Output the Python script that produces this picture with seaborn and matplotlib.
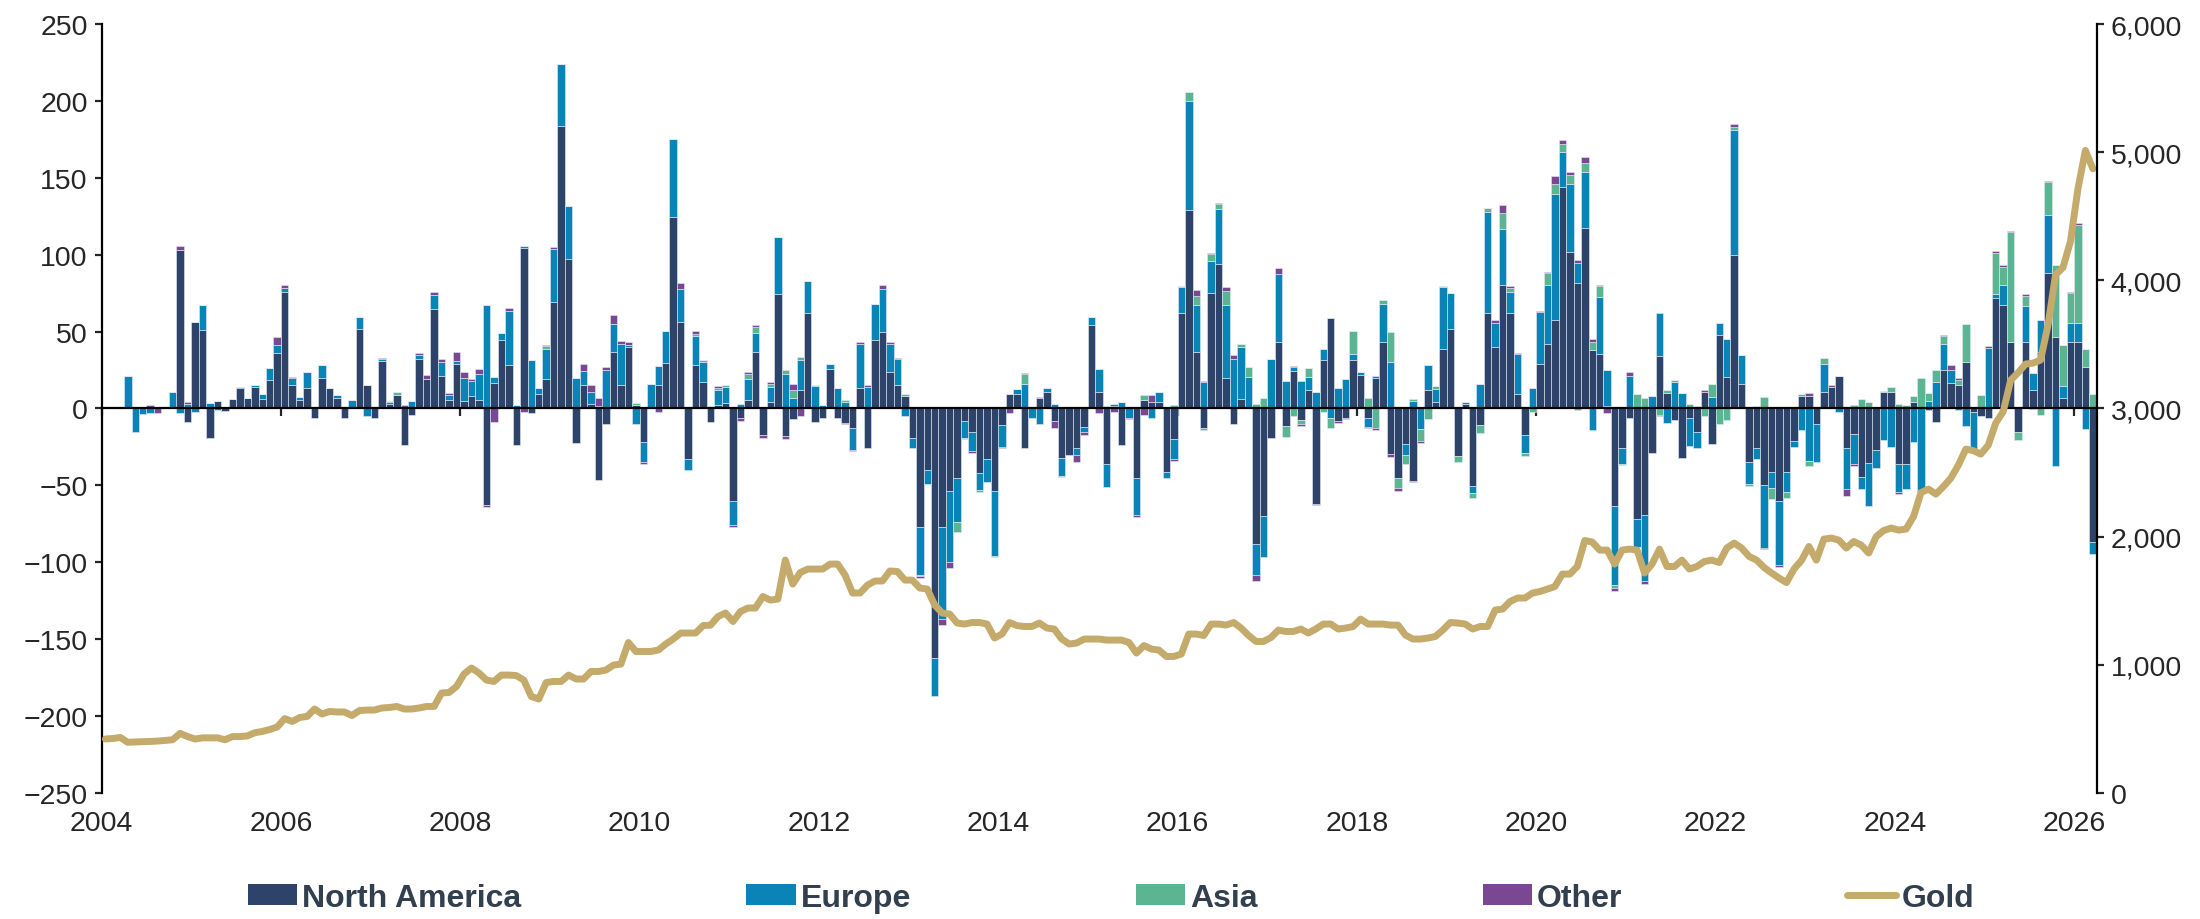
import numpy as np
import matplotlib
matplotlib.use("Agg")
import matplotlib.pyplot as plt
import matplotlib.ticker as mticker
from matplotlib.patches import Patch
from matplotlib.lines import Line2D
import seaborn as sns

# Monthly gold ETF flows by region (tonnes), Jan 2004 - Mar 2026, 12 values per row
north_america = [
    0, 0, 0, 0, 0, 0, 0, 0, 0, 0, 103, -8.5,                            # 2004
    56.5, 51, -19, 5, -1.5, 6, 13, 6.5, 14, 6, 18.5, 36,                # 2005
    76, 15, 5.5, 13.6, -6, 20, 13, 7, -6, 1, 52, 15.6,                  # 2006
    -6.5, 31, 3, 9, -24, -4, 32, 19.5, 65, 21, 5.5, 29,                 # 2007
    5, 8, 5.5, -63, 16.5, 44.5, 28.6, -24, 104.5, -3, 9.4, 19.5,        # 2008
    69, 184, 97.5, -22.5, 15, 3, -46.5, -10, 37, 15.6, 40, 2,           # 2009
    -22, 0, 15.6, 29.5, 124.5, 56, -33, 28, 17.5, -9, 2, 3.6,           # 2010
    -60, -6.5, 5.5, 37, -17, 4, 74.5, -18, -7, 11.7, 62, -9,            # 2011
    -6.5, 26, -6.5, -9.4, -12.7, 13.3, -26, 44.5, 50, 23.7, 15.6, 8.4,  # 2012
    -19.5, -77, -40, -162, -77, -53.6, -45, -8, -15, -42, -33, -53.6,   # 2013
    -11, 9.4, 9.4, -26, 0, 6.5, 10.4, -8.4, -32, -30, -26, -12,         # 2014
    54, 10.4, -36, 1.6, -23.7, 0, -45.5, 5.5, 4.5, 4.5, -41, -20,       # 2015
    62, 129, 37, -12.7, 75, 94, 20, -10, 6, 0, -88, -70,                # 2016
    -19, 43, -11.4, 24.7, -7.5, 12.3, -62, 31.5, 59, -8.4, -6, 31.5,    # 2017
    22, -6, 20, 43, -29.6, -45, -23, -47, 0, 11.7, 4.5, 39,             # 2018
    52, -31, 3, -50.7, -10.7, 62, 40, 80, 62, 9.7, -17, 0,              # 2019
    29, 42, 57.5, 144, 102, 81.5, 117.6, 38, 35.4, 1.6, -63.7, -26,     # 2020
    -6.5, -72, -69, -29, 34, 10, -7.5, -32.5, -6.5, -15, 10.7, -23,     # 2021
    48, 20.5, 100, 16, -35, -26, -50, -41, -60, -41, -21, 8.4,          # 2022
    8.4, -10, 11, 14, 21, -26, -16.5, -44.5, -35.4, -27, 10.4, 11,      # 2023
    -36.4, -36.4, 4.2, 0, -1, -8.5, 25, 16.6, 15.6, 30, -2, -5,         # 2024
    -6, 72, 67, 43.5, -15.6, 43.5, 11.7, 36.7, 88, 46.8, 6.8, 43.5,     # 2025
    43, 27.3, -87,                                                      # 2026
]

europe = [
    0, 0, 0, 21, -15, -3.5, -3, 0, 0, 11, -3, 3,
    -2.5, 16, 3.5, -1, 0, 0, 1.3, 0, 1.3, 3.6, 7.8, 5.2,
    2.3, 5, 2, 10, 0, 8, 0, 1.6, 0, 4.5, 7.5, -5,
    0, 1.3, 1, 0, 0, 5, 3, 0, 9, 9, 3, 2,
    15, 10, 17, 67, 4, 4.5, 35, 2, 1, 31.5, 3.6, 19,
    35, 40, 34, 20, 9.4, 7.5, 1.6, 25, 18, 26.6, 1, -10,
    -13, 16, 12.3, 21, 51, 21.5, -7, 19, 13, 1.3, 10, 10.4,
    -16, 3, 14, 12.3, 1, 10, 37, 22.7, 7, 20, 21, 14.6,
    2, 3, 13, 4, -14, 28.6, 14, 23.7, 28, 18, 16.5, -5,
    -6, -31, -9, -24.7, -60, -46.5, -28.6, -11, -12.7, -11, -14.6, -42,
    -14, 0, 3, 16, -6, -10, 2.6, 2.6, -11.7, 0, -4, -3.6,
    5.5, 15.6, -15, 1.6, 4, -6, -24, 0, -6.5, 6, -4, -13,
    17, 71, 30, 17, 21, 36, 47, 32, 34, 20.5, -20, -26.6,
    32.5, 44.5, 18, 2, 18, 8.4, 10.7, 7.5, -6, 13, 19, 4,
    2, -6, 1, 25, 30, 1, -7, 5, -13.3, 16.6, 8.4, 40,
    23, 0, 1, -4.5, 16, 65.6, 15.6, 37, 13.6, 25.7, -12, 13,
    34, 38, 82, 22.7, 44, 13.3, 36, -14, 37, 23.4, -51, -10,
    21, -18, -43, 8, 28, -9.4, 17, 10, -18, -11, 0, 7.5,
    7.5, 24.7, 81, 19, -14.3, -7, -40.6, -11, -42, -13, -4, -14,
    -34, -25, 18, 0, -2, -26.6, -19.5, -8, -28, -11.7, -20.5, -25,
    -18, -16, -22, -53, 4.9, 17, 17, 8.4, -1, -11.4, -26.3, 0,
    39.6, 2.3, 13.6, 0, 1, 23.4, 11.4, 21, 37.7, -37.7, 7.8, 12.3,
    12.3, -13.3, -7.5,
]

asia = [
    0, 0, 0, 0, 0, 0, 0, 0, 0, 0, 0, 0,
    0, 0, 0, 0, 0, 0, 0, 0, 0, 0, 0, 0,
    0, 0, 0, 0, 0, 0, 0, 0, 0, 0, 0, 0,
    0, 0, 1, 1.5, 0, 0, 0, 0, 0, 0, 0, 0,
    0, 0, 0, 0, 0, 0, 0, 0, 0, 0, 0, 2,
    0, 0, 0, 0, 0, 0, 0, 0, 0, 0, 0, 1.3,
    0, 0, 0, 0, 0, 0, 1, 1.6, 1.3, 0, 1.6, 1,
    0, 0, 3.2, 3.6, 0, 2, 0, 2.3, 5, 2, 0, 1,
    0, 0, 0, 1.3, 0, 0, 0, 0, 0, 0, 0, 1.3,
    0, -1, 0, 0, 0, 0, -6.5, -1, 0, -1, 0, -1,
    0, 0, 0, 6.5, 0, 0, 0, 0, -1, 0, 0, 0,
    0, 0, 1.3, 0, 0, 0, 0, 3, 0, 0, 1, 2,
    0.7, 5.5, 6, -1, 4.5, 3, 9.4, 0, 2, 6.5, 3, 7,
    0, 0, -7, -5, -2.6, 5.5, 0, -2.6, -7, 0, 0, 14.6,
    0, 6.5, -13, 2.6, 20, -7, -6, 1, -8, -6.8, 2, 0.7,
    0, -4, 0, -3, -5, 3, 0, 10, 2.6, 0, -2, -2,
    0, 8, 6.5, 5, 6, -1, 6, 5.5, 7, 0, -2, -1,
    0, 9.4, 7, 0, -4, 2, 1.3, 0, 3, 1.6, -5, 8.4,
    -10, -7.5, 2.3, 0, -1, 1.3, 7.5, -7, 0, -4.5, 0, 0.7,
    -3.6, 0, 3.6, 0, 0, 0.5, 2, 6, 4, 0, 0.7, 3.2,
    2.6, 2.3, 3.9, 19.8, 5.2, 8, 5, 0, 3, 24.7, 0, 9,
    0, 27, 11.7, 71, -5, 6.5, 0, -4, 21.4, 46.5, 26.6, 19,
    64, 11.4, 9.4,
]

other = [
    0, 0, 0, 0, 0, 0, 2, -3, 0, 0, 2.5, 1,
    0, 0, 0, 0, 0, 0, 0, 0, 0, 0, 0, 5.5,
    2, 0.7, 0, 0, 0, 0, 0, 0, 0, 0, 0, 0,
    0, 0.7, 0, 0, 2, 0, 1, 2.6, 2, 2, 1.6, 5.5,
    4, 1.3, 3, -1, -9, 0, 2, 0, -2, 0, 0, 0.7,
    1, 0, 0, 0, 4.5, 5, 5.5, 2, 6, 2, 2, 0,
    -1, 0, -2.5, 0, 0, 4, 0, 1.6, 0, 0, 1, 0,
    -1, -1.6, 1, 1.6, -2, 1, 0, -2, 4, -5, 0, 0,
    0, 0, 0, -1, -1, 1.3, 1.6, 0, 2.6, 1.3, 0.7, 0,
    0, -1, 0, 1, -4, -3.6, 0, 0, -1, 0, 0, 0,
    -1, -3, 0, 0.7, 0.7, 1, 0, -4, 0, 1, -4.5, -1.6,
    0, -3, 0, -2, 0, -1, -1, -4.5, 4.5, 0, 0, -1,
    0, 0, 4, 1, 0.7, 0.7, 2.6, 2.6, 0, 0, -4, 0,
    0, 3.6, 0, 0.7, -1, 0, -1, 0, 0, -1, -1, 0,
    0, -1, -1, 0, -2, -1.6, 0, -1, -1, 0, 0, 0,
    0, 0, 0, 0, 0, 0, 2, 5, 1.6, 0.7, 0.5, 0,
    0.5, 0.7, 5, 2.6, 2, 2, 4, 2, 0.7, -3, -2, 0,
    2.6, 0, -2, 0, -1, 0, 0, 0, 0, 0, 1.6, 0,
    0, 0, 1.6, 0, 0, 0, -1, 0.5, -1, 0, 0, 0,
    1.6, 0, 0, 1, 0, -4, -1.5, 0, 0, 0.5, 0, 0,
    -1, 0, 0, -1, 0, 0, 1, 3.2, 1.3, 0, 0, 0,
    1.3, 1, 0.7, 1, 0, 1.3, -0.5, 0, 1, 0, 0, 1,
    1, 0, 0,
]

# Gold price (US$/oz), right axis
gold = [
    421, 425, 433, 395, 398, 400, 402, 405, 410, 415, 465, 440,
    421, 430, 430, 430, 415, 440, 440, 445, 470, 480, 495, 515,
    580, 558, 589, 597, 655, 616, 636, 632, 632, 604, 643, 647,
    647, 663, 667, 675, 655, 655, 663, 675, 675, 780, 784, 831,
    928, 975, 936, 881, 870, 920, 920, 916, 881, 753, 733, 862,
    870, 870, 920, 889, 889, 948, 948, 959, 998, 1006, 1174, 1104,
    1104, 1104, 1115, 1162, 1201, 1248, 1248, 1248, 1306, 1310, 1377, 1404,
    1338, 1416, 1443, 1443, 1533, 1505, 1513, 1817, 1630, 1720, 1747, 1747,
    1747, 1786, 1786, 1700, 1560, 1560, 1622, 1654, 1654, 1732, 1728, 1661,
    1661, 1599, 1591, 1466, 1404, 1396, 1326, 1318, 1330, 1330, 1318, 1209,
    1240, 1330, 1306, 1299, 1299, 1326, 1287, 1279, 1201, 1162, 1170, 1201,
    1201, 1201, 1193, 1193, 1193, 1174, 1092, 1150, 1123, 1115, 1065, 1065,
    1084, 1240, 1240, 1229, 1318, 1318, 1310, 1330, 1287, 1229, 1182, 1182,
    1213, 1271, 1260, 1260, 1279, 1248, 1279, 1318, 1318, 1279, 1287, 1299,
    1357, 1318, 1318, 1318, 1310, 1310, 1232, 1201, 1201, 1209, 1221, 1271,
    1330, 1326, 1318, 1279, 1299, 1299, 1427, 1435, 1494, 1521, 1521, 1560,
    1572, 1591, 1611, 1708, 1708, 1767, 1970, 1958, 1895, 1895, 1786, 1895,
    1903, 1895, 1716, 1786, 1903, 1767, 1767, 1817, 1747, 1767, 1806, 1817,
    1798, 1911, 1950, 1911, 1845, 1817, 1759, 1716, 1677, 1642, 1747, 1814,
    1923, 1817, 1981, 1989, 1973, 1911, 1962, 1934, 1872, 2000, 2048, 2067,
    2051, 2059, 2157, 2344, 2371, 2332, 2391, 2457, 2558, 2683, 2671, 2644,
    2714, 2886, 2976, 3221, 3280, 3347, 3354, 3378, 3651, 4042, 4100, 4303,
    4713, 5014, 4870,
]

series_names = ["North America", "Europe", "Asia", "Other"]
series_colors = ["#2E4369", "#0A83B6", "#5CB592", "#7A4893"]
gold_color = "#C4AA6B"
text_color = "#323F4F"

n = len(gold)
for s in (north_america, europe, asia, other):
    assert len(s) == n
x = 2004 + (np.arange(n) + 0.5) / 12

sns.set_style("white")
plt.rcParams['font.family'] = ['Liberation Sans', 'DejaVu Sans']

fig = plt.figure(figsize=(22, 9.2), dpi=100)
ax = fig.add_axes([0.0462, 0.137, 0.9068, 0.8358])

# stacked columns: positives stack upward, negatives downward
pos_base = np.zeros(n)
neg_base = np.zeros(n)
for vals, name, color in zip((north_america, europe, asia, other), series_names, series_colors):
    vals = np.asarray(vals, dtype=float)
    bottom = np.where(vals >= 0, pos_base, neg_base)
    ax.bar(x, vals, width=1 / 12, bottom=bottom, color=color,
           edgecolor="#e4ecf4", linewidth=0.4, label=name)
    pos_base += np.clip(vals, 0, None)
    neg_base += np.clip(vals, None, 0)

ax.set_xlim(2004, 2004 + n / 12)
ax.set_ylim(-250, 250)
ax.set_yticks(np.arange(-250, 251, 50))
ax.set_xticks(np.arange(2004, 2027, 2))

# category axis sits on the zero line, labels at the bottom
ax.spines['bottom'].set_position(('data', 0))
ax.spines['bottom'].set_color('black')
ax.spines['bottom'].set_linewidth(1.6)
ax.spines['top'].set_visible(False)
ax.spines['right'].set_visible(False)
ax.spines['left'].set_color('black')
ax.spines['left'].set_linewidth(1.6)
ax.tick_params(axis='x', direction='out', length=6, width=1.6, labelbottom=False, bottom=True)
ax.tick_params(axis='y', direction='out', length=5, width=1.6, labelsize=20.5, pad=5, left=True)

sec = ax.secondary_xaxis('bottom')
sec.set_xticks(np.arange(2004, 2027, 2))
sec.tick_params(length=0, labelsize=20.5, pad=12)
sec.spines['bottom'].set_visible(False)

# gold price on the right axis
ax2 = ax.twinx()
sns.lineplot(x=x, y=gold, ax=ax2, color=gold_color, linewidth=5, legend=False)
ax2.set_ylim(0, 6000)
ax2.set_yticks(np.arange(0, 6001, 1000))
ax2.yaxis.set_major_formatter(mticker.StrMethodFormatter('{x:,.0f}'))
for side in ('top', 'left', 'bottom'):
    ax2.spines[side].set_visible(False)
ax2.spines['right'].set_color('black')
ax2.spines['right'].set_linewidth(1.6)
ax2.tick_params(axis='y', direction='out', length=5, width=1.6, labelsize=20.5, pad=5, right=True)
ax2.set_ylabel('')

handles = [Patch(facecolor=c, edgecolor='none') for c in series_colors]
handles.append(Line2D([0], [0], color=gold_color, linewidth=5))
leg = fig.legend(handles, series_names + ["Gold"], loc='lower center', ncol=5,
                 bbox_to_anchor=(0.505, -0.014), frameon=False,
                 prop={'weight': 'bold', 'size': 23}, labelcolor=text_color,
                 columnspacing=7.05, handlelength=1.54, handleheight=0.6,
                 handletextpad=0.15, borderpad=0.1)

fig.savefig("out.png", dpi=100)
